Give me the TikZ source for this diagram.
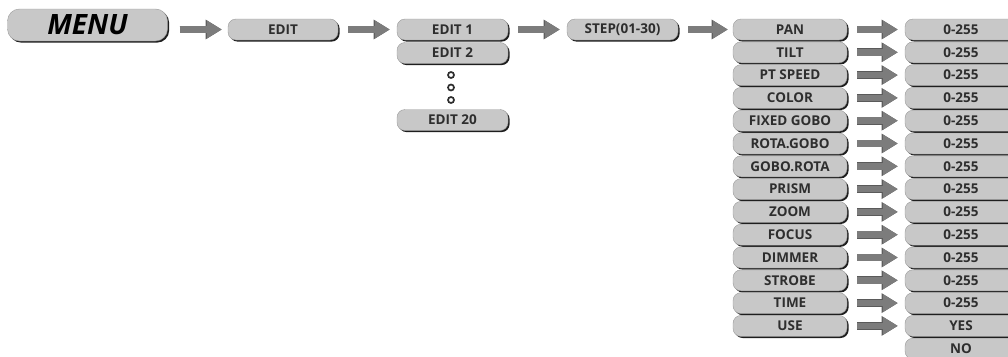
\documentclass[tikz,border=0pt]{standalone}
\usepackage{fontspec}
\setmainfont{Open Sans}
\usetikzlibrary{shadows,arrows.meta}
\definecolor{boxfill}{HTML}{C8C8C8}
\definecolor{boxline}{HTML}{9A9A9A}
\definecolor{shadowc}{HTML}{1E1E1E}
\definecolor{txt}{HTML}{2E2E2E}
\definecolor{arrowc}{HTML}{7C7C7C}
\definecolor{arrowedge}{HTML}{5A5A5A}
\tikzset{
  menubox/.style={rounded corners=8pt, fill=boxfill, draw=boxline, line width=0.4pt,
    drop shadow={shadow xshift=1.6pt, shadow yshift=-1.6pt, opacity=1, fill=shadowc},
    minimum height=21pt, inner sep=0pt, text=txt,
    font=\fontsize{13.5}{13.5}\selectfont\bfseries},
  titlebox/.style={menubox, rounded corners=12pt, minimum width=160pt, minimum height=32pt,
    font=\fontsize{28}{28}\selectfont\bfseries\itshape, text=black},
  wbox/.style={menubox, minimum width=111pt},
  pbox/.style={menubox, minimum width=114pt},
  vbox/.style={menubox, minimum width=112pt},
  bigarrow/.style={draw=arrowc, line width=6.5pt,
    -{Triangle[length=15pt,width=17pt]},
    preaction={draw=arrowedge, line width=7.7pt, -{Triangle[length=16.2pt,width=18.6pt]}},
    shorten <=10pt, shorten >=7pt},
  dotc/.style={circle, draw=txt, line width=1.7pt, minimum size=6pt, inner sep=0pt}
}
\begin{document}
\begin{tikzpicture}[x=1pt,y=-1pt]
\useasboundingbox (0,0) rectangle (1008,356);
\clip (0,0) rectangle (1008,356);

\node[titlebox] (menu) at (87.5,25) {MENU};
\node[menubox, minimum width=110pt] (edit) at (283,29.5) {EDIT};
\node[wbox] (e1) at (452.5,29.5) {EDIT 1};
\node[wbox] (e2) at (452.5,53) {EDIT 2};
\node[dotc] (d1) at (451,75) {};
\node[dotc] (d2) at (451,87.5) {};
\node[dotc] (d3) at (451,100) {};
\node[wbox] (e20) at (452.5,120) {EDIT 20};
\node[wbox] (step) at (622.5,29.5) {STEP(01-30)};

\foreach \i/\p in {0/PAN,1/TILT,2/PT SPEED,3/COLOR,4/FIXED GOBO,5/ROTA.GOBO,6/GOBO.ROTA,7/PRISM,8/ZOOM,9/FOCUS,10/DIMMER,11/STROBE,12/TIME,13/USE}{
  \node[pbox] (p\i) at (790,{29.5+22.8*\i}) {\p};
}
\foreach \i/\v in {0/0-255,1/0-255,2/0-255,3/0-255,4/0-255,5/0-255,6/0-255,7/0-255,8/0-255,9/0-255,10/0-255,11/0-255,12/0-255,13/YES,14/NO}{
  \node[vbox] (v\i) at (961,{29.5+22.8*\i}) {\v};
}

\draw[bigarrow, shorten <=12pt, shorten >=6pt] (menu.east |- edit.west) -- (edit.west);
\draw[bigarrow] (edit) -- (e1);
\draw[bigarrow] (e1) -- (step);
\draw[bigarrow, shorten >=5pt] (step) -- (p0);
\foreach \i in {0,...,13}{
  \draw[bigarrow] (p\i) -- (v\i);
}
\end{tikzpicture}
\end{document}
